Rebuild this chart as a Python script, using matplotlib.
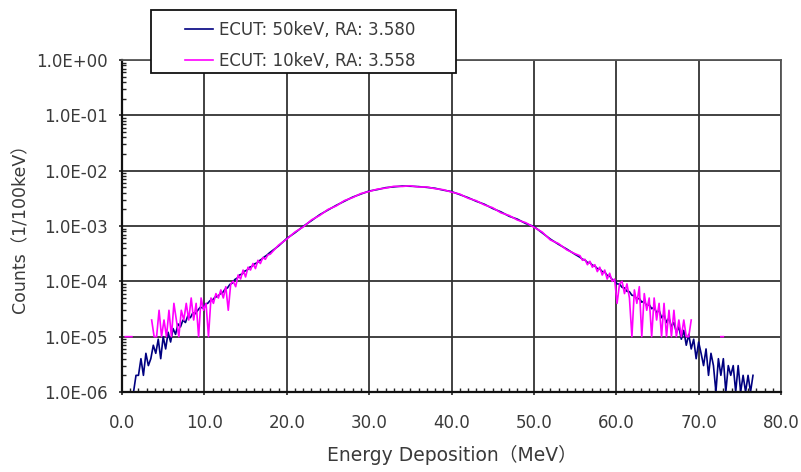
import numpy as np
import matplotlib.pyplot as plt
from matplotlib.patches import Rectangle
from matplotlib.ticker import LogLocator, MultipleLocator, NullFormatter

plt.rcParams['font.family'] = ['DejaVu Sans', 'Noto Sans CJK JP']

# ---- data ----------------------------------------------------------------
# energy (MeV) of the sampled points: tails every 3 MeV, centre every 10 MeV
blue_e_lo = list(range(14, 180, 3))
blue_e_mid = list(range(190, 551, 10))
blue_e_hi = list(range(556, 767, 3))

# ECUT 50keV, counts in units of 1e-6 /100keV on the tails
blue_lo = [1, 2, 2, 4, 2, 5, 3, 4, 7, 5, 9, 4, 10, 6, 12, 8, 14, 11, 17, 15,
           20, 18, 24, 22, 27, 26, 30, 34, 33, 39, 40, 45, 46, 52, 53, 59, 62,
           72, 76, 88, 93, 108, 115, 131, 136, 153, 160, 180, 187, 207, 216,
           237, 254, 278, 298, 327]
blue_mid = [4.35e-4, 5.95e-4, 7.55e-4, 9.85e-4, 1.25e-3, 1.60e-3, 1.94e-3,
            2.36e-3, 2.80e-3, 3.33e-3, 3.78e-3, 4.29e-3, 4.55e-3, 4.93e-3,
            5.10e-3, 5.27e-3, 5.23e-3, 5.15e-3, 4.99e-3, 4.81e-3, 4.45e-3,
            4.19e-3, 3.70e-3, 3.26e-3, 2.80e-3, 2.47e-3, 2.07e-3, 1.80e-3,
            1.50e-3, 1.33e-3, 1.11e-3, 9.8e-4, 7.55e-4, 5.8e-4, 4.65e-4,
            3.82e-4, 3.07e-4]
blue_hi = [272, 251, 243, 219, 218, 196, 189, 170, 168, 150, 147, 128, 125,
           108, 104, 90, 89, 78, 76, 66, 65, 56, 55, 48, 49, 42, 44, 36, 38,
           32, 34, 27, 30, 22, 25, 18, 22, 15, 18, 12, 15, 9, 13, 7, 11, 6, 9,
           4, 8, 5, 3, 6, 2, 5, 3, 1, 4, 2, 4, 1, 3, 2, 3, 1, 3, 1, 2, 1, 2, 1,
           2]

# ECUT 10keV, counts in units of 1e-5 /100keV on the tails
mag_e_first = [4, 12]
mag_first = [1, 1]
mag_e_lo = list(range(36, 181, 3))
mag_lo = [2, 1, 1, 3, 1, 2, 1, 3, 1, 4, 2, 1, 3, 2, 4, 2, 5, 2, 4, 1, 5, 3,
          4, 1, 5, 4, 6, 5, 7, 5, 8, 3, 9, 10, 8, 13, 11, 16, 12, 18, 16, 21,
          17, 24, 21, 27, 25, 30, 31]
mag_e_mid = list(range(190, 551, 10))
mag_mid = [4.5e-4, 5.8e-4, 7.8e-4, 9.6e-4, 1.29e-3, 1.55e-3, 1.99e-3,
           2.30e-3, 2.88e-3, 3.26e-3, 3.86e-3, 4.20e-3, 4.64e-3, 4.84e-3,
           5.22e-3, 5.18e-3, 5.33e-3, 5.06e-3, 5.08e-3, 4.72e-3, 4.53e-3,
           4.10e-3, 3.78e-3, 3.18e-3, 2.87e-3, 2.40e-3, 2.14e-3, 1.73e-3,
           1.55e-3, 1.28e-3, 1.15e-3, 9.5e-4, 7.8e-4, 5.6e-4, 4.8e-4, 3.7e-4,
           3.15e-4]
mag_e_hi = list(range(556, 692, 3))
mag_hi = [29, 24, 25, 20, 23, 18, 20, 15, 18, 13, 16, 11, 14, 10, 11, 4, 9,
          10, 6, 9, 5, 1, 7, 4, 8, 1, 6, 3, 5, 1, 5, 2, 4, 1, 4, 1, 3, 1, 3,
          1, 2, 1, 2, 1, 1, 2]
mag_e_last = [727, 730]
mag_last = [1, 1]

labels = ['ECUT: 50keV, RA: 3.580', 'ECUT: 10keV, RA: 3.558']
xticks = [0, 100, 200, 300, 400, 500, 600, 700, 800]
xtick_labels = ['0.0', '10.0', '20.0', '30.0', '40.0', '50.0', '60.0',
                '70.0', '80.0']
yticks = [1e0, 1e-1, 1e-2, 1e-3, 1e-4, 1e-5, 1e-6]
ytick_labels = ['1.0E+00', '1.0E-01', '1.0E-02', '1.0E-03', '1.0E-04',
                '1.0E-05', '1.0E-06']

# ---- assemble the series --------------------------------------------------
blue_x = blue_e_lo + blue_e_mid + blue_e_hi
blue_y = [v * 1e-6 for v in blue_lo] + blue_mid + [v * 1e-6 for v in blue_hi]

nan = np.nan
mag_x = (mag_e_first + [nan] + mag_e_lo + mag_e_mid + mag_e_hi + [nan]
         + mag_e_last)
mag_y = ([v * 1e-5 for v in mag_first] + [nan] + [v * 1e-5 for v in mag_lo]
         + mag_mid + [v * 1e-5 for v in mag_hi] + [nan]
         + [v * 1e-5 for v in mag_last])

# ---- figure ---------------------------------------------------------------
W, H = 801, 472
fig = plt.figure(figsize=(W / 100, H / 100), dpi=100)
ax = fig.add_axes([122 / W, 1 - 392 / H, 659 / W, 332 / H])

l1, = ax.plot(blue_x, blue_y, color='#000080', lw=1.2)
l2, = ax.plot(mag_x, mag_y, color='#ff00ff', lw=1.2)

ax.set_yscale('log')
ax.set_xlim(0, 800)
ax.set_ylim(1e-6, 1)
ax.set_xticks(xticks)
ax.set_xticklabels(xtick_labels)
ax.set_yticks(yticks)
ax.set_yticklabels(ytick_labels)
ax.yaxis.set_minor_locator(LogLocator(base=10, subs=np.arange(2, 10), numticks=20))
ax.yaxis.set_minor_formatter(NullFormatter())
ax.xaxis.set_minor_locator(MultipleLocator(10))

txt = '#3a3a3a'
ax.grid(True, which='major', color='#333333', lw=1.3)
ax.tick_params(which='major', length=2, width=1.2, labelsize=12,
               labelcolor=txt, color='#222222')
ax.tick_params(axis='y', which='major', pad=8)
ax.tick_params(axis='x', which='major', pad=14)
ax.tick_params(which='minor', direction='in', length=3, width=1.0,
               color='#222222')
for s in ('left', 'bottom'):
    ax.spines[s].set_color('#111111')
    ax.spines[s].set_linewidth(1.6)
for s in ('top', 'right'):
    ax.spines[s].set_color('#555555')
    ax.spines[s].set_linewidth(1.3)

ax.set_xlabel('Energy Deposition（MeV）', fontsize=13.5, color=txt)
ax.set_ylabel('Counts（1/100keV）', fontsize=12.5, color=txt)
ax.xaxis.set_label_coords(0.5, -0.16)
ax.yaxis.set_label_coords(-0.141, 0.504)

# legend box overlapping the top of the plot
fig.add_artist(Rectangle((151 / W, 1 - 73 / H), 305 / W, 63 / H,
                         transform=fig.transFigure, facecolor='white',
                         edgecolor='#111111', lw=1.3, zorder=4))
fig.legend([l1, l2], labels, loc='upper left',
           bbox_to_anchor=(185 / W, 1 - 21 / H), frameon=False,
           borderpad=0, borderaxespad=0, handlelength=1.7,
           handletextpad=0.35, labelspacing=0.75, fontsize=12,
           labelcolor=txt).set_zorder(5)

fig.savefig('out.png', dpi=100)
